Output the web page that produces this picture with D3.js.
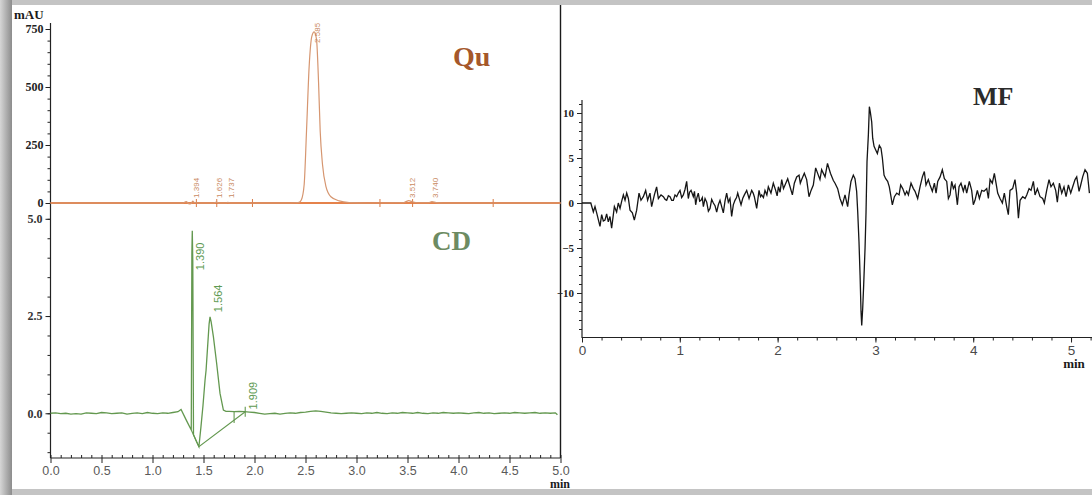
<!DOCTYPE html>
<html>
<head>
<meta charset="utf-8">
<script src="https://cdn.jsdelivr.net/npm/d3@7"></script>
<style>
  html, body { margin: 0; padding: 0; background: #fff; }
  svg { display: block; }
</style>
</head>
<body>
<svg id="chart" width="1092" height="495"></svg>
<script>
// ---------- Qu chromatogram (mAU vs min) ----------
const quTime   = [0, 0.5, 1.0, 1.30, 1.33, 1.36, 1.38, 1.394, 1.41, 1.44, 1.60, 1.626, 1.65, 1.72, 1.737, 1.76, 2.0, 2.30, 2.40, 2.438, 2.46, 2.487, 2.510, 2.536, 2.562, 2.585, 2.608, 2.628, 2.644, 2.667, 2.700, 2.749, 2.830, 2.928, 3.1, 3.45, 3.48, 3.512, 3.55, 3.60, 3.70, 3.740, 3.78, 3.85, 4.2, 5.0];
const quSignal = [0, 0, 0, 0, 6, -4, -2, 8, 2, 0, 0, 4, 0, 0, 3, 0, 0, 0, 1, 3, 14, 80, 310, 590, 718, 738, 705, 520, 310, 165, 72, 27, 9, 2, 0, 1, 5, 10, 5, 1, 1, 6, 2, 0, 0, 0];
const quPeakTimes  = [1.394, 1.626, 1.737, 2.585, 3.512, 3.740];
const quLabelLevel = [22, 22, 22, 690, 22, 22];
const quMarkTimes  = [1.43, 1.63, 1.98, 3.23, 3.55, 4.34];
const quTicks      = [0, 250, 500, 750];

// ---------- CD chromatogram ----------
const cdTime = [0, 0.05, 0.1, 0.15, 0.2, 0.25, 0.3, 0.35, 0.4, 0.45, 0.5, 0.55, 0.6, 0.65, 0.7, 0.75, 0.8, 0.85, 0.9, 0.95, 1.0, 1.05, 1.1, 1.15, 1.2, 1.25,
  1.28, 1.33, 1.380, 1.386, 1.390, 1.395, 1.402, 1.43, 1.455, 1.475, 1.495, 1.515, 1.525, 1.54, 1.555, 1.564, 1.575, 1.597, 1.629, 1.662, 1.695, 1.72,
  1.75, 1.80, 1.85, 1.90, 1.95, 2.0, 2.05, 2.1, 2.15, 2.2, 2.25, 2.3, 2.35, 2.4, 2.45, 2.5, 2.55, 2.6, 2.65, 2.7, 2.75, 2.8, 2.85, 2.9, 2.95,
  3.0, 3.05, 3.1, 3.15, 3.2, 3.25, 3.3, 3.35, 3.4, 3.45, 3.5, 3.55, 3.6, 3.65, 3.7, 3.75, 3.8, 3.85, 3.9, 3.95,
  4.0, 4.05, 4.1, 4.15, 4.2, 4.25, 4.3, 4.35, 4.4, 4.45, 4.5, 4.55, 4.6, 4.65, 4.7, 4.75, 4.8, 4.85, 4.9, 4.95, 4.97];
const cdSignal = [0, 0.01, -0.01, 0.0, -0.02, -0.01, -0.02, 0.01, 0.0, -0.01, 0.02, 0.01, -0.01, 0.0, 0.01, -0.02, 0.0, 0.01, -0.01, 0.02, 0.0, -0.01, 0.01, 0.0, 0.02, 0.04,
  0.10, -0.17, -0.43, 4.1, 4.69, 3.9, -0.55, -0.72, -0.86, -0.35, 0.2, 0.85, 1.1, 1.7, 2.3, 2.48, 2.35, 1.97, 1.28, 0.51, 0.08, 0.05,
  0.05, 0.04, 0.05, 0.04, 0.03, 0.02, 0.0, -0.02, -0.01, 0.0, -0.02, 0.0, 0.01, 0.0, 0.02, 0.03, 0.05, 0.06, 0.05, 0.03, 0.01, 0.0, -0.01, 0.0, 0.01,
  0.0, -0.01, 0.01, 0.0, 0.02, 0.0, -0.01, 0.01, 0.0, 0.02, 0.01, 0.0, 0.02, 0.0, -0.01, 0.01, 0.0, 0.02, 0.01, 0.0,
  0.01, 0.0, -0.01, 0.01, 0.02, 0.0, 0.01, -0.01, 0.0, 0.01, 0.0, 0.02, 0.01, 0.0, 0.01, 0.02, 0.0, 0.01, 0.0, 0.01, -0.04];
const cdPeakTimes  = [1.390, 1.564, 1.909];
const cdLabelLevel = [3.68, 2.6, 0.1];
const cdBaseStart  = [1.380, -0.43];
const cdBaseValley = [1.455, -0.86];
const cdBaseEnd    = [1.909, 0.04];
const cdDropTime   = 1.80;
const cdTicks      = [0, 2.5, 5];
const leftXTicks   = d3.range(0, 5.001, 0.5);

// ---------- MF chromatogram ----------
const mfTime = [0.000, 0.090, 0.116, 0.133, 0.150, 0.184, 0.201, 0.218, 0.235, 0.252, 0.269, 0.286, 0.303, 0.331, 0.354, 0.371, 0.389, 0.406, 0.423, 0.440,
  0.457, 0.474, 0.491, 0.515, 0.535, 0.559, 0.583, 0.603, 0.627, 0.651, 0.671, 0.695, 0.712, 0.740, 0.763, 0.781, 0.808, 0.832, 0.850, 0.866,
  0.883, 0.900, 0.917, 0.934, 0.951, 0.968, 0.985, 1.002, 1.019, 1.036, 1.053, 1.070, 1.087, 1.100, 1.115, 1.138, 1.150, 1.162, 1.175, 1.189,
  1.203, 1.217, 1.230, 1.241, 1.258, 1.275, 1.292, 1.309, 1.326, 1.343, 1.360, 1.377, 1.394, 1.411, 1.428, 1.445, 1.462, 1.479, 1.496, 1.513,
  1.530, 1.547, 1.564, 1.580, 1.592, 1.610, 1.626, 1.643, 1.660, 1.684, 1.708, 1.735, 1.750, 1.762, 1.786, 1.810, 1.825, 1.837, 1.855, 1.871,
  1.890, 1.905, 1.932, 1.956, 1.980, 1.995, 2.008, 2.025, 2.042, 2.060, 2.076, 2.103, 2.127, 2.151, 2.171, 2.195, 2.219, 2.232, 2.246, 2.273,
  2.297, 2.321, 2.342, 2.365, 2.389, 2.416, 2.433, 2.450, 2.485, 2.510, 2.540, 2.570, 2.587, 2.614, 2.638, 2.662, 2.689, 2.716, 2.730, 2.750,
  2.774, 2.791, 2.808, 2.819, 2.832, 2.843, 2.853, 2.860, 2.870, 2.880, 2.894, 2.904, 2.914, 2.928, 2.938, 2.948, 2.962, 2.972, 2.986, 3.003,
  3.020, 3.040, 3.057, 3.071, 3.088, 3.105, 3.125, 3.142, 3.156, 3.173, 3.194, 3.218, 3.242, 3.258, 3.279, 3.303, 3.320, 3.337, 3.364, 3.388,
  3.405, 3.432, 3.456, 3.480, 3.500, 3.517, 3.541, 3.558, 3.582, 3.603, 3.620, 3.637, 3.661, 3.684, 3.705, 3.729, 3.746, 3.763, 3.780, 3.797,
  3.814, 3.838, 3.855, 3.875, 3.899, 3.916, 3.933, 3.960, 3.984, 4.001, 4.018, 4.042, 4.063, 4.087, 4.110, 4.138, 4.155, 4.172, 4.195, 4.216,
  4.233, 4.250, 4.274, 4.298, 4.318, 4.342, 4.359, 4.376, 4.403, 4.427, 4.444, 4.462, 4.479, 4.506, 4.530, 4.547, 4.571, 4.591, 4.615, 4.632,
  4.656, 4.683, 4.710, 4.727, 4.751, 4.775, 4.795, 4.819, 4.843, 4.860, 4.881, 4.905, 4.928, 4.949, 4.973, 4.997, 5.017, 5.041, 5.058, 5.082,
  5.099, 5.119, 5.143, 5.167, 5.188];
const mfSignal = [0, 0, -1.0, -0.4, -1.1, -2.6, -1.3, -2.0, -1.9, -1.2, -2.1, -1.5, -2.8, -0.4, -1.0, 0.0, -0.6, 0.2, 0.9, 0.3,
  1.1, 0.5, -0.8, -1.1, -1.9, -0.8, 1.1, 0.3, 0.7, 1.4, 0.3, 1.1, -0.4, 0.9, 1.8, 0.5, 0.9, 0.7, 0.4, 0.3,
  0.8, 0.7, 0.3, 0.3, 0.9, 0.7, 1.1, 1.4, 0.6, 0.9, 1.5, 2.4, 0.5, 1.2, 1.4, 0.7, 1.3, -0.2, 0.6, 1.1,
  0.2, 0.3, 0.6, -0.4, 0.5, 0.1, -0.9, -0.6, 0.4, 0.0, -0.3, -1.0, -0.2, 0.3, -0.4, -1.1, 0.2, 1.1, 0.1, 0.5,
  -1.5, -0.2, 0.3, 0.6, 1.1, 0.4, -0.2, 0.5, 0.9, 1.4, 0.5, 1.4, 1.1, 0.7, -0.6, 1.4, 0.7, 0.9, 0.6, 1.4,
  0.9, 1.8, 1.1, 2.2, 1.4, 0.8, 1.8, 1.2, 2.6, 1.6, 2.0, 2.7, 1.8, 0.9, 2.2, 2.9, 3.1, 2.2, 2.6, 3.3,
  2.6, 0.7, 1.4, 2.0, 3.9, 3.1, 2.6, 3.7, 2.9, 4.4, 3.3, 2.5, 2.2, 1.6, 0.5, -0.2, 0.9, -0.4, 0.9, 2.4,
  3.1, 2.7, 1.3, -1.0, -4.3, -8.0, -12.1, -13.6, -11.7, -9.1, -5.0, -1.0, 4.6, 7.6, 10.7, 10.1, 9.0, 7.2, 6.3, 5.9,
  5.5, 6.4, 6.1, 5.0, 3.1, 2.7, 2.4, 1.8, 0.9, -0.2, 0.7, 1.1, 0.9, 2.0, 1.6, 0.9, 1.3, 0.9, 2.2, 1.6,
  1.3, 0.5, 1.8, 2.9, 3.5, 2.0, 2.6, 2.0, 1.3, 2.2, 1.1, 2.4, 2.9, 3.7, 2.7, 2.4, 0.5, 0.9, 2.4, 1.6,
  2.0, -0.2, 1.8, 2.2, 1.3, 2.0, 1.1, 2.4, 1.4, -0.2, 0.3, 1.4, 0.5, 1.4, 1.3, 1.6, 0.5, 2.6, 2.2, 3.3,
  2.2, 1.1, 0.5, 0.0, 1.1, -0.4, -1.3, 1.4, 1.6, 2.6, 1.1, -1.7, 0.3, 0.7, 0.5, 0.9, 1.6, 1.4, 2.4, 0.9,
  1.6, 0.7, 0.5, 0.0, 1.4, 2.6, 1.8, 2.2, 1.4, 0.1, 2.2, 1.1, 1.8, 0.7, 2.0, 1.1, 1.8, 2.6, 2.9, 1.3,
  2.0, 2.9, 3.7, 3.3, 1.1];
const mfYMajor = [-10, -5, 0, 5, 10];
const mfXMajor = [0, 1, 2, 3, 4, 5];

// ---------- scales ----------
const xL  = d3.scaleLinear().domain([0, 5]).range([50.5, 560.5]);
const yQu = d3.scaleLinear().domain([0, 750]).range([203, 29]);
const yCD = d3.scaleLinear().domain([-1.15, 5]).range([458, 218.8]);
const xMF = d3.scaleLinear().domain([0, 5.2]).range([582, 1090.6]);
const yMF = d3.scaleLinear().domain([-15, 11.5]).range([338, 99.5]);

const SERIF = "'Liberation Serif', 'Times New Roman', serif";
const SANS  = "'Liberation Sans', Arial, sans-serif";

const svg = d3.select("#chart");

// ---------- page frame ----------
const defs = svg.append("defs");
const edge = defs.append("linearGradient").attr("id", "edgeShade").attr("x1", 0).attr("x2", 1).attr("y1", 0).attr("y2", 0);
edge.append("stop").attr("offset", 0).attr("stop-color", "#d6d6d6");
edge.append("stop").attr("offset", 0.7).attr("stop-color", "#a2a2a2");
edge.append("stop").attr("offset", 1).attr("stop-color", "#8c8c8c");
svg.append("rect").attr("width", 1092).attr("height", 495).attr("fill", "#c4c4c4");
svg.append("rect").attr("x", 0).attr("y", 0).attr("width", 12).attr("height", 495).attr("fill", "url(#edgeShade)");
svg.append("rect").attr("x", 12).attr("y", 5).attr("width", 1080).attr("height", 484).attr("fill", "#ffffff");

// panel divider
svg.append("line").attr("x1", 560.5).attr("x2", 560.5).attr("y1", 5).attr("y2", 458)
  .attr("stroke", "#1a1a1a").attr("stroke-width", 1.4);

function styleAxis(g, font, size, weight, color) {
  g.select(".domain").remove();
  g.selectAll(".tick line").attr("stroke", "#222").attr("stroke-width", 1);
  g.selectAll(".tick text").attr("font-family", font).attr("font-size", size)
    .attr("font-weight", weight).attr("fill", color);
}

// ---------- left panel axes ----------
svg.append("line").attr("x1", 50.5).attr("x2", 50.5).attr("y1", 23).attr("y2", 458)
  .attr("stroke", "#222").attr("stroke-width", 1.2);
svg.append("line").attr("x1", 50.5).attr("x2", 560.5).attr("y1", 458).attr("y2", 458)
  .attr("stroke", "#222").attr("stroke-width", 1.2);

svg.append("g").attr("transform", "translate(50.5,0)")
  .call(d3.axisLeft(yQu).tickValues(d3.range(0, 751, 50)).tickSize(3).tickFormat(""))
  .call(g => styleAxis(g, SERIF, 12, "bold", "#222"));
svg.append("g").attr("transform", "translate(50.5,0)")
  .call(d3.axisLeft(yQu).tickValues(quTicks).tickSize(5).tickPadding(2).tickFormat(d3.format("d")))
  .call(g => styleAxis(g, SERIF, 12, "bold", "#222"));

svg.append("g").attr("transform", "translate(50.5,0)")
  .call(d3.axisLeft(yCD).tickValues(d3.range(-1, 5.001, 0.5)).tickSize(3).tickFormat(""))
  .call(g => styleAxis(g, SERIF, 12, "bold", "#222"));
svg.append("g").attr("transform", "translate(50.5,0)")
  .call(d3.axisLeft(yCD).tickValues(cdTicks).tickSize(5).tickPadding(3).tickFormat(d3.format(".1f")))
  .call(g => styleAxis(g, SERIF, 12, "bold", "#333"));

svg.append("g").attr("transform", "translate(0,458)")
  .call(d3.axisTop(xL).tickValues(d3.range(0, 5.001, 0.1)).tickSize(3).tickFormat(""))
  .call(g => styleAxis(g, SANS, 12, "normal", "#555"));
svg.append("g").attr("transform", "translate(0,458)")
  .call(d3.axisBottom(xL).tickValues(leftXTicks).tickSize(5).tickPadding(3).tickFormat(d3.format(".1f")))
  .call(g => styleAxis(g, SANS, 12.5, "normal", "#5a5a5a"));

svg.append("text").attr("x", 14).attr("y", 19).text("mAU")
  .attr("font-family", SERIF).attr("font-size", 13).attr("font-weight", "bold").attr("fill", "#1a1a1a");
svg.append("text").attr("x", 560).attr("y", 488).attr("text-anchor", "middle").text("min")
  .attr("font-family", SERIF).attr("font-size", 12).attr("font-weight", "bold").attr("fill", "#1a1a1a");

// ---------- Qu trace ----------
svg.append("line").attr("x1", xL(0)).attr("x2", xL(5)).attr("y1", yQu(0)).attr("y2", yQu(0))
  .attr("stroke", "#e5824b").attr("stroke-width", 2);
svg.append("g").selectAll("line").data(quMarkTimes).join("line")
  .attr("x1", d => xL(d)).attr("x2", d => xL(d))
  .attr("y1", yQu(0) - 4).attr("y2", yQu(0) + 4)
  .attr("stroke", "#d87a45").attr("stroke-width", 1);
const quLine = d3.line().x((d, i) => xL(quTime[i])).y(d => yQu(d)).curve(d3.curveMonotoneX);
svg.append("path").attr("d", quLine(quSignal))
  .attr("fill", "none").attr("stroke", "#d69670").attr("stroke-width", 1.2);
svg.append("g").selectAll("text").data(quPeakTimes).join("text")
  .attr("transform", (d, i) => `translate(${xL(d) + 6},${yQu(quLabelLevel[i])}) rotate(-90)`)
  .text(d => d.toFixed(3))
  .attr("font-family", SANS).attr("font-size", 8).attr("fill", "#c98a62");
svg.append("text").attr("x", 453).attr("y", 66).text("Qu")
  .attr("font-family", SERIF).attr("font-size", 28).attr("font-weight", "bold").attr("fill", "#a5582b");

// ---------- CD trace ----------
const cdLine = d3.line().x((d, i) => xL(cdTime[i])).y(d => yCD(d)).curve(d3.curveLinear);
svg.append("path").attr("d", cdLine(cdSignal))
  .attr("fill", "none").attr("stroke", "#63984f").attr("stroke-width", 1.3);
// integration baselines and drop line
const segLine = d3.line().x(d => xL(d[0])).y(d => yCD(d[1]));
svg.append("path").attr("d", segLine([cdBaseStart, cdBaseValley, cdBaseEnd]))
  .attr("fill", "none").attr("stroke", "#63984f").attr("stroke-width", 1.1);
const fracDrop = (cdDropTime - cdBaseValley[0]) / (cdBaseEnd[0] - cdBaseValley[0]);
const dropBase = cdBaseValley[1] + fracDrop * (cdBaseEnd[1] - cdBaseValley[1]);
svg.append("line").attr("x1", xL(cdDropTime)).attr("x2", xL(cdDropTime))
  .attr("y1", yCD(dropBase) + 3).attr("y2", yCD(0.05))
  .attr("stroke", "#63984f").attr("stroke-width", 1.1);
svg.append("line").attr("x1", xL(cdBaseEnd[0])).attr("x2", xL(cdBaseEnd[0]))
  .attr("y1", yCD(cdBaseEnd[1]) - 5).attr("y2", yCD(cdBaseEnd[1]) + 5)
  .attr("stroke", "#63984f").attr("stroke-width", 1.1);
svg.append("g").selectAll("text").data(cdPeakTimes).join("text")
  .attr("transform", (d, i) => `translate(${xL(d) + 12},${yCD(cdLabelLevel[i])}) rotate(-90)`)
  .text(d => d.toFixed(3))
  .attr("font-family", SANS).attr("font-size", 11).attr("fill", "#5e9a52");
svg.append("text").attr("x", 432).attr("y", 250).text("CD")
  .attr("font-family", SERIF).attr("font-size", 27).attr("font-weight", "bold").attr("fill", "#6d8b62");

// ---------- MF panel ----------
svg.append("line").attr("x1", 582).attr("x2", 582).attr("y1", 100).attr("y2", 338)
  .attr("stroke", "#222").attr("stroke-width", 1.2);
svg.append("line").attr("x1", 582).attr("x2", 1092).attr("y1", 337.5).attr("y2", 337.5)
  .attr("stroke", "#222").attr("stroke-width", 1.2);
svg.append("g").attr("transform", "translate(582,0)")
  .call(d3.axisLeft(yMF).tickValues(d3.range(-14, 11.01, 1)).tickSize(3).tickFormat(""))
  .call(g => styleAxis(g, SERIF, 10, "bold", "#222"));
svg.append("g").attr("transform", "translate(582,0)")
  .call(d3.axisLeft(yMF).tickValues(mfYMajor).tickSize(5).tickPadding(3).tickFormat(d3.format("d")))
  .call(g => styleAxis(g, SERIF, 11, "bold", "#222"));
svg.append("g").attr("transform", "translate(0,337.5)")
  .call(d3.axisBottom(xMF).tickValues(d3.range(0, 5.21, 0.2)).tickSize(3).tickFormat(""))
  .call(g => styleAxis(g, SANS, 13, "normal", "#444"));
svg.append("g").attr("transform", "translate(0,337.5)")
  .call(d3.axisBottom(xMF).tickValues(mfXMajor).tickSize(5).tickPadding(3).tickFormat(d3.format("d")))
  .call(g => styleAxis(g, SANS, 13.5, "normal", "#4a4a4a"));
svg.append("text").attr("x", 1074).attr("y", 368).attr("text-anchor", "middle").text("min")
  .attr("font-family", SERIF).attr("font-size", 13).attr("font-weight", "bold").attr("fill", "#1a1a1a");

const mfLine = d3.line().x((d, i) => xMF(mfTime[i])).y(d => yMF(d));
svg.append("path").attr("d", mfLine(mfSignal))
  .attr("fill", "none").attr("stroke", "#151515").attr("stroke-width", 1.3)
  .attr("stroke-linejoin", "miter");
svg.append("text").attr("x", 973).attr("y", 105).text("MF")
  .attr("font-family", SERIF).attr("font-size", 26).attr("font-weight", "bold").attr("fill", "#2b2b2b");
</script>
</body>
</html>
